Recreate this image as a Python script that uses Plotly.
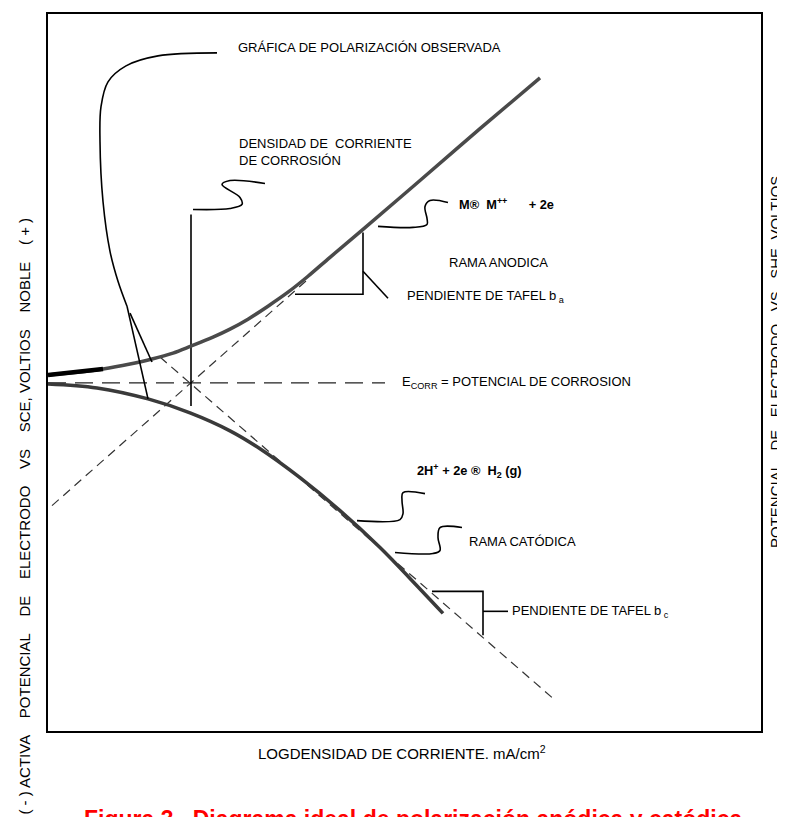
import plotly.graph_objects as go

# Schematic values: x = log current density, y = electrode potential (arbitrary units)
anodic_x = [0, 3.2, 5.5, 8.2, 10.4, 12.5, 14.3, 16.5, 18.2, 20.0, 22.0, 24.0, 26.0, 28.2, 31.5, 37.2, 43.2, 49.2]
anodic_y = [35.7, 36.0, 36.3, 36.8, 37.3, 37.9, 38.6, 39.5, 40.3, 41.3, 42.6, 44.0, 45.6, 47.5, 50.3, 55.2, 60.4, 65.5]
cathodic_x = [0, 4.9, 10.0, 14.2, 18.2, 21.2, 25.2, 29.2, 33.2, 36.2, 39.5]
cathodic_y = [34.8, 34.4, 33.3, 31.9, 30.1, 28.3, 25.4, 22.1, 18.4, 15.3, 11.8]

# Tafel extrapolations, corrosion potential and corrosion current
tafel_a_x = [0.4, 26.0]
tafel_a_y = [22.6, 45.3]
tafel_c_x = [11.2, 50.7]
tafel_c_y = [37.5, 3.1]
ecorr_x = [0, 33.7]
ecorr_y = [34.9, 34.9]
icorr_x = [14.3, 14.3]
icorr_y = [51.8, 32.6]

# Tafel slope triangles and their leaders
tri_a_x = [31.5, 31.5, 24.7]
tri_a_y = [50.0, 43.8, 43.8]
lead_a_x = [31.5, 34.0]
lead_a_y = [46.1, 43.4]
tri_c_x = [38.4, 43.5, 43.5]
tri_c_y = [14.0, 14.0, 9.6]
lead_c_x = [43.5, 46.0]
lead_c_y = [12.0, 12.0]

# Label leader squiggles
sq_graf_x = [16.9, 11.0, 7.8, 6.0, 5.3, 5.2, 5.5, 6.2, 7.0, 7.9]
sq_graf_y = [68.0, 67.7, 66.7, 65.1, 62.6, 59.1, 53.1, 48.1, 45.1, 42.6]
sq_graf_c_x = [7.9, 10.0]
sq_graf_c_y = [42.6, 33.3]
sq_graf_a_x = [8.2, 10.4]
sq_graf_a_y = [41.9, 37.0]
sq_dens_x = [21.7, 18.2, 17.4, 19.2, 19.4, 18.2, 14.5]
sq_dens_y = [54.9, 55.2, 54.8, 53.5, 52.8, 52.4, 52.3]
sq_m_x = [40.0, 38.2, 37.7, 37.9, 37.9, 36.5, 33.0]
sq_m_y = [53.0, 53.2, 52.6, 51.4, 50.8, 50.5, 50.6]
sq_h_x = [37.7, 35.5, 35.4, 35.5, 35.2, 30.9]
sq_h_y = [23.8, 23.9, 23.1, 21.8, 21.2, 21.1]
sq_cat_x = [41.4, 39.2, 39.0, 39.2, 38.5, 34.7]
sq_cat_y = [20.4, 20.4, 19.4, 18.1, 17.8, 17.9]

font_family = 'Liberation Sans, Arial, sans-serif'
thin = dict(color='black', width=1.6)

fig = go.Figure()

# Dashed reference lines
fig.add_scatter(x=ecorr_x, y=ecorr_y, mode='lines',
                line=dict(color='#222', width=1.3, dash='18px,9px'))
fig.add_scatter(x=tafel_a_x, y=tafel_a_y, mode='lines',
                line=dict(color='#333', width=1.2, dash='9px,6px'))
fig.add_scatter(x=tafel_c_x, y=tafel_c_y, mode='lines',
                line=dict(color='#333', width=1.2, dash='9px,6px'))
fig.add_scatter(x=icorr_x, y=icorr_y, mode='lines', line=thin)

# Polarization curves
fig.add_scatter(x=anodic_x, y=anodic_y, mode='lines', line_shape='spline',
                line=dict(color='#4a4a4a', width=3.5))
fig.add_scatter(x=anodic_x[:3], y=anodic_y[:3], mode='lines',
                line=dict(color='black', width=4.5))
fig.add_scatter(x=cathodic_x, y=cathodic_y, mode='lines', line_shape='spline',
                line=dict(color='#3a3a3a', width=3.5))

# Triangles and leaders
for xs, ys in [(tri_a_x, tri_a_y), (lead_a_x, lead_a_y), (tri_c_x, tri_c_y),
               (lead_c_x, lead_c_y), (sq_graf_c_x, sq_graf_c_y),
               (sq_graf_a_x, sq_graf_a_y)]:
    fig.add_scatter(x=xs, y=ys, mode='lines', line=thin)

for xs, ys in [(sq_graf_x, sq_graf_y), (sq_dens_x, sq_dens_y), (sq_m_x, sq_m_y),
               (sq_h_x, sq_h_y), (sq_cat_x, sq_cat_y)]:
    fig.add_scatter(x=xs, y=ys, mode='lines', line_shape='spline', line=thin)

fig.update_traces(hoverinfo='skip', showlegend=False)

# In-plot labels
labels = [
    (18.8, 68.5, 'GRÁFICA DE POLARIZACIÓN OBSERVADA', False),
    (18.9, 58.1, 'DENSIDAD DE  CORRIENTE<br>DE CORROSIÓN', False),
    (40.9, 52.8, 'M®  M<sup>++</sup>      + 2e', True),
    (39.9, 47.0, 'RAMA ANODICA', False),
    (35.7, 43.6, 'PENDIENTE DE TAFEL b<sub> a</sub>', False),
    (35.2, 34.9, 'E<sub>CORR</sub> = POTENCIAL DE CORROSION', False),
    (36.7, 26.1, '2H<sup>+</sup> + 2e ®  H<sub>2</sub> (g)', True),
    (41.9, 19.0, 'RAMA CATÓDICA', False),
    (46.2, 12.0, 'PENDIENTE DE TAFEL b<sub> c</sub>', False),
]
for x, y, text, bold in labels:
    fig.add_annotation(x=x, y=y, text=f'<b>{text}</b>' if bold else text,
                       showarrow=False, xanchor='left', yanchor='middle', align='left',
                       font=dict(family=font_family, size=12.8 if bold else 13, color='black'))

# Axis titles and caption (paper coordinates)
sp = '\u00a0'
fig.add_annotation(xref='paper', yref='paper', x=0.497, y=-0.0306,
                   text='LOGDENSIDAD DE CORRIENTE. mA/cm<sup>2</sup>',
                   showarrow=False, xanchor='center', yanchor='middle',
                   font=dict(family=font_family, size=15, color='black'))
fig.add_annotation(xref='paper', yref='paper', x=-0.0323, y=0.3004, textangle=-90,
                   text=(f'( - ) ACTIVA{sp*4}POTENCIAL{sp*4}DE{sp*4}ELECTRODO{sp*4}VS{sp*4}'
                         f'SCE,{sp}VOLTIOS{sp*4}NOBLE{sp*4}( + )'),
                   showarrow=False, xanchor='center', yanchor='middle',
                   font=dict(family=font_family, size=15, color='black'))
fig.add_annotation(xref='paper', yref='paper', x=1.0196, y=0.5146, textangle=-90,
                   text=f'POTENCIAL{sp*3}DE{sp*3}ELECTRODO{sp*3}VS{sp*3}SHE,{sp}VOLTIOS',
                   showarrow=False, xanchor='center', yanchor='middle',
                   font=dict(family=font_family, size=15, color='black'))
fig.add_annotation(xref='paper', yref='paper', x=0.048, y=-0.1015,
                   text='<b>Figura 3.  Diagrama ideal de polarización anódica y catódica</b>',
                   showarrow=False, xanchor='left', yanchor='top',
                   font=dict(family=font_family, size=23, color='red'))

axis_style = dict(showline=True, mirror=True, linecolor='black', linewidth=1.8,
                  showgrid=False, zeroline=False, showticklabels=False, ticks='',
                  fixedrange=True)
fig.update_xaxes(range=[0, 71.3], **axis_style)
fig.update_yaxes(range=[0, 71.9], **axis_style)

# page body adds an 8px offset, so the figure is 8px smaller than the window
fig.update_layout(
    width=777, height=809,
    margin=dict(l=40, r=24, t=4, b=86),
    paper_bgcolor='white', plot_bgcolor='white',
    showlegend=False)

fig.write_html("out.html")
